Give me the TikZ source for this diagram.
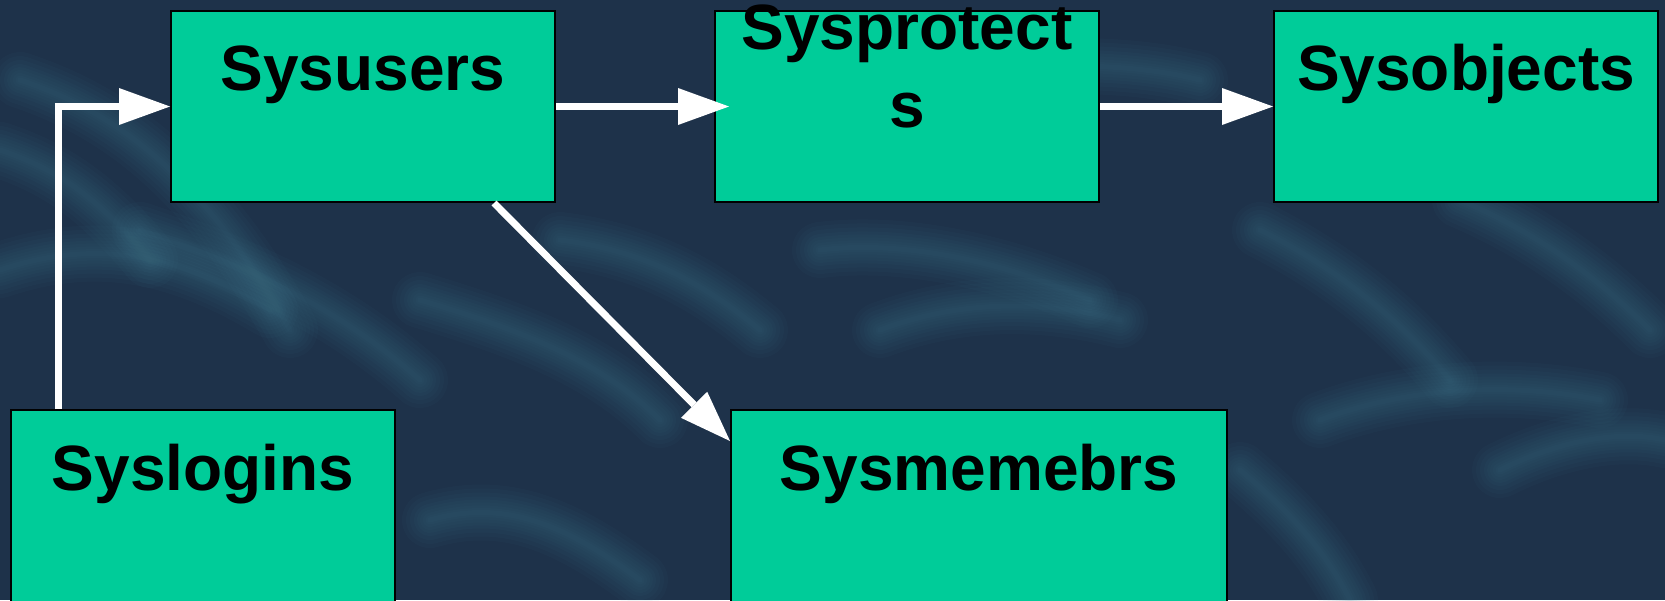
\documentclass[tikz,border=0pt]{standalone}
\usepackage{fontspec}
\setmainfont{Liberation Sans}
\usetikzlibrary{arrows.meta,positioning}

\definecolor{sea}{RGB}{30,50,74}
\definecolor{wispcol}{RGB}{72,134,154}
\definecolor{tablegreen}{RGB}{0,204,153}

\begin{document}
\begin{tikzpicture}[x=1pt,y=-1pt,
  >={Triangle[length=51pt,width=37pt,line width=0pt]},
  flow/.style={->,draw=white,line width=7pt},
  sysbox/.style={rectangle,draw=black,line width=2pt,fill=tablegreen,
    inner sep=0pt,anchor=north west,minimum width=384pt,minimum height=191pt},
  boxtitle/.style={font=\bfseries\fontsize{64}{78}\selectfont,anchor=base,
    inner sep=0pt,align=center},
  wisp/.style={draw=wispcol,line cap=round,opacity=0.045}]

  % water background, soft streaks
  \fill[sea] (0,0) rectangle (1665,600);
  \useasboundingbox (0,0) rectangle (1665,600);
  \foreach \w in {56,48,40,32,26,20,14,9,5}
  {
    \draw[wisp,line width=\w pt] (0,270) .. controls (90,240) and (170,250) .. (270,310);
    \draw[wisp,line width=\w pt] (20,80) .. controls (110,110) and (200,170) .. (290,330);
    \draw[wisp,line width=\w pt] (140,230) .. controls (230,260) and (330,300) .. (420,380);
    \draw[wisp,line width=\w pt] (0,150) .. controls (60,170) and (100,200) .. (150,260);
    \draw[wisp,line width=\w pt] (420,300) .. controls (520,330) and (600,360) .. (660,420);
    \draw[wisp,line width=\w pt] (560,240) .. controls (640,250) and (700,280) .. (760,330);
    \draw[wisp,line width=\w pt] (820,250) .. controls (900,240) and (1000,260) .. (1090,300);
    \draw[wisp,line width=\w pt] (880,330) .. controls (960,300) and (1040,300) .. (1120,320);
    \draw[wisp,line width=\w pt] (1260,230) .. controls (1340,270) and (1400,320) .. (1450,380);
    \draw[wisp,line width=\w pt] (1320,420) .. controls (1400,390) and (1500,380) .. (1600,400);
    \draw[wisp,line width=\w pt] (1460,200) .. controls (1530,230) and (1590,270) .. (1650,330);
    \draw[wisp,line width=\w pt] (1240,470) .. controls (1300,520) and (1330,560) .. (1350,600);
    \draw[wisp,line width=\w pt] (430,520) .. controls (500,500) and (560,520) .. (640,580);
    \draw[wisp,line width=\w pt] (1000,60) .. controls (1060,70) and (1120,60) .. (1200,80);
    \draw[wisp,line width=\w pt] (1500,470) .. controls (1560,440) and (1620,430) .. (1665,440);
  }

  % tables
  \node[sysbox] (users) at (170,10) {};
  \node[sysbox] (protects) at (714,10) {};
  \node[sysbox] (objects) at (1273,10) {};
  \node[sysbox,minimum height=200pt] (logins) at (10,409) {};
  \node[sysbox,minimum height=200pt,minimum width=496pt] (members) at (730,409) {};

  \node[boxtitle] (usersname) at ([yshift=-80pt]users.north) {Sysusers};
  \node[boxtitle] (protectsname) at ([yshift=-117pt]protects.north) {Sysprotect\\s};
  \node[boxtitle] (objectsname) at ([yshift=-80pt]objects.north) {Sysobjects};
  \node[boxtitle] (loginsname) at ([yshift=-81pt]logins.north) {Syslogins};
  \node[boxtitle] (membersname) at ([yshift=-81pt]members.north) {Sysmemebrs};

  % links
  \draw[flow] ([xshift=48pt]logins.north west) |- (users.west);
  \draw[flow] (users.east) -- ([xshift=15pt]protects.west);
  \draw[flow] (protects.east) -- (objects.west);
  \draw[flow] ([xshift=-62pt]users.south east) -- ([yshift=-32pt]members.north west);
\end{tikzpicture}
\end{document}
